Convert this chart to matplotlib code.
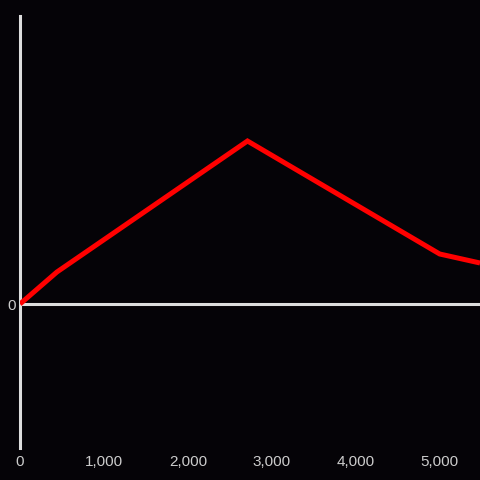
import matplotlib.pyplot as plt
from matplotlib.ticker import FuncFormatter

# Данные линии
x_vals = [0, 440, 2710, 5000, 5480]
y_vals = [0, 32, 163, 50, 41]
x_ticks = [0, 1000, 2000, 3000, 4000, 5000]

bg = '#050307'
axis_color = '#dddddd'
label_color = '#cccccc'

plt.rcParams['font.family'] = ['Liberation Sans', 'DejaVu Sans']

fig = plt.figure(figsize=(4.8, 4.8), dpi=100, facecolor=bg)
ax = fig.add_axes([20 / 480, 32 / 480, 460 / 480, 432 / 480], facecolor=bg)

ax.plot(x_vals, y_vals, color='#ff0000', linewidth=3.6, solid_joinstyle='miter',
        solid_capstyle='butt', zorder=3)
ax.axhline(0, color=axis_color, linewidth=2.2, zorder=2)

ax.set_xlim(0, 5480)
ax.set_ylim(-144, 288)

for side in ['top', 'right', 'bottom']:
    ax.spines[side].set_visible(False)
ax.spines['left'].set_color(axis_color)
ax.spines['left'].set_linewidth(2.2)

ax.set_xticks(x_ticks)
ax.xaxis.set_major_formatter(FuncFormatter(lambda v, p: f'{int(v):,}'))
ax.set_yticks([0])
ax.tick_params(axis='x', length=0, pad=5, labelsize=11, labelcolor=label_color)
ax.tick_params(axis='y', length=0, pad=3, labelsize=11, labelcolor=label_color)

fig.savefig('out.png', dpi=100, facecolor=bg)
